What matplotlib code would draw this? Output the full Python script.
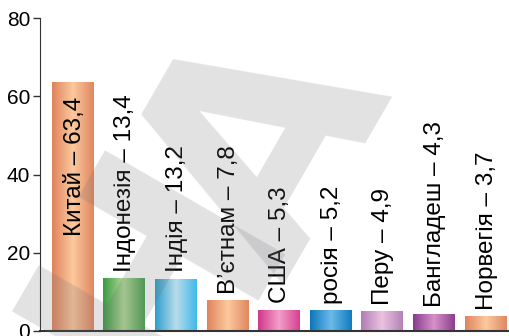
import matplotlib
matplotlib.use('Agg')
import matplotlib.pyplot as plt
import numpy as np
from matplotlib.colors import LinearSegmentedColormap

plt.rcParams['font.family'] = ['Liberation Sans', 'DejaVu Sans']

# data
countries = ['Китай', 'Індонезія', 'Індія', 'В\u2019єтнам', 'США', 'росія', 'Перу', 'Бангладеш', 'Норвегія']
values = [63.4, 13.4, 13.2, 7.8, 5.3, 5.2, 4.9, 4.3, 3.7]
value_labels = ['63,4', '13,4', '13,2', '7,8', '5,3', '5,2', '4,9', '4,3', '3,7']
# gradient colours of each bar: edge, centre, edge
bar_colors = [
    ('#df835c', '#fcc99d', '#e08760'),
    ('#3a9944', '#b3da97', '#4ba150'),
    ('#2c9ecf', '#b9dcea', '#3fb9ea'),
    ('#df835c', '#fcc99d', '#e08760'),
    ('#d2358a', '#f39fca', '#d6408f'),
    ('#0b76ba', '#6cbae9', '#0f7cbf'),
    ('#b07cb3', '#ebc3e1', '#b482b8'),
    ('#883a8b', '#d592ca', '#8c3d8e'),
    ('#df835c', '#fcc99d', '#e08760'),
]

fig = plt.figure(figsize=(5.09, 3.36), dpi=100)
ax = fig.add_axes([0.0786, 0.0149, 0.9214, 0.9315])

x = np.arange(len(countries))
width = 0.8
bars = ax.bar(x, values, width=width, color='none', edgecolor='none', zorder=2)

# horizontal gradient inside every bar
grad = np.linspace(0, 1, 256).reshape(1, -1)
for b, cols in zip(bars, bar_colors):
    cmap = LinearSegmentedColormap.from_list('g', list(cols))
    x0, y0 = b.get_x(), b.get_y()
    w, h = b.get_width(), b.get_height()
    ax.imshow(grad, cmap=cmap, aspect='auto', extent=[x0, x0 + w, y0, y0 + h],
              zorder=2, interpolation='bicubic')

# labels above bars (the first one inside the bar)
for i, (c, v, lab) in enumerate(zip(countries, values, value_labels)):
    txt = c + ' \u2013 ' + lab
    if i == 0:
        ax.text(i + 0.05, 42, txt, rotation=90, ha='center', va='center',
                fontsize=17.5, color='black', zorder=4)
    else:
        ax.annotate(txt, xy=(i, v), xytext=(1, 5), textcoords='offset points',
                    rotation=90, ha='center', va='bottom', fontsize=17.5,
                    color='black', zorder=4)

ax.set_xlim(-0.63, 8.46)
ax.set_ylim(0, 80)
ax.set_yticks([0, 20, 40, 60, 80])
ax.set_xticks([])
ax.tick_params(axis='y', labelsize=15, length=5, width=1, color='#333333', pad=2)
for s in ['top', 'right']:
    ax.spines[s].set_visible(False)
ax.spines['left'].set_color('#333333')
ax.spines['bottom'].set_color('#333333')
ax.spines['bottom'].set_linewidth(1.5)

# watermark
for ch, px, py in [('А', 0.530, 0.554), ('Н', 0.31, 0.19)]:
    fig.text(px, py, ch, fontsize=205, fontweight='bold', color='#6e7075',
             alpha=0.2, rotation=60, rotation_mode='anchor',
             ha='center', va='center', zorder=10, family='DejaVu Sans')

fig.savefig('out.png', dpi=100)
